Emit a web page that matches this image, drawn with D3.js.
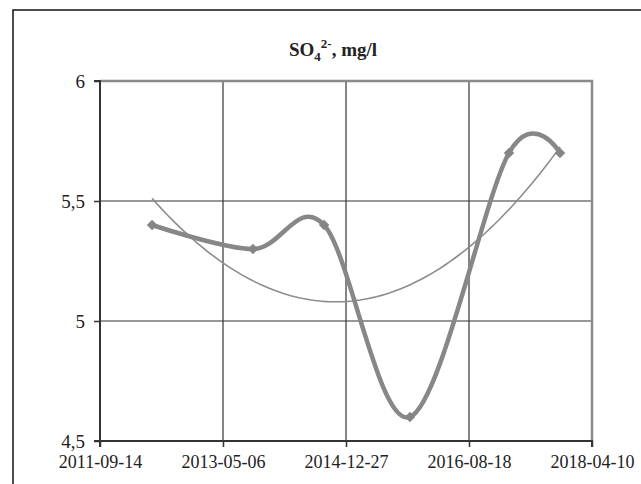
<!DOCTYPE html>
<html>
<head>
<meta charset="utf-8">
<script src="https://cdn.jsdelivr.net/npm/d3@7"></script>
<style>
  body { margin: 0; background: #fff; }
  text { font-family: "Liberation Serif", "Times New Roman", serif; fill: #222; }
</style>
</head>
<body>
<svg id="chart" width="641" height="484"></svg>
<script>
// data
const dates = ["2012-05-25", "2013-09-29", "2014-09-11", "2015-11-04", "2017-03-01", "2017-11-05"];
const values = [5.4, 5.3, 5.4, 4.6, 5.7, 5.7];
const xTicks = ["2011-09-14", "2013-05-06", "2014-12-27", "2016-08-18", "2018-04-10"];
const yTicks = [4.5, 5, 5.5, 6];

const parse = d3.timeParse("%Y-%m-%d");
const pts = dates.map((d, i) => ({ x: parse(d), y: values[i] }));

const svg = d3.select("#chart");
const pLeft = 100, pRight = 592, pTop = 81, pBottom = 441;

const x = d3.scaleTime()
    .domain([parse(xTicks[0]), parse(xTicks[xTicks.length - 1])])
    .range([pLeft, pRight]);
const y = d3.scaleLinear().domain([4.5, 6]).range([pBottom, pTop]);

// outer frame
svg.append("rect")
    .attr("x", 13).attr("y", 10)
    .attr("width", 700).attr("height", 600)
    .style("fill", "#fff")
    .style("stroke", "#111")
    .style("stroke-width", 1.5);

// title
const title = svg.append("text")
    .attr("x", 333).attr("y", 56)
    .attr("text-anchor", "middle")
    .style("font-weight", "bold")
    .style("font-size", "19px");
title.append("tspan").text("SO");
title.append("tspan").attr("dy", 5).style("font-size", "13px").text("4");
title.append("tspan").attr("dy", -13).style("font-size", "13px").text("2-");
title.append("tspan").attr("dy", 8).text(", mg/l");

// gridlines
svg.append("g").selectAll("line")
    .data(yTicks.slice(1, -1))
    .join("line")
    .attr("x1", pLeft).attr("x2", pRight)
    .attr("y1", d => y(d)).attr("y2", d => y(d))
    .style("stroke", "#333").style("stroke-width", 1.2);

svg.append("g").selectAll("line")
    .data(xTicks.slice(1, -1))
    .join("line")
    .attr("x1", d => x(parse(d))).attr("x2", d => x(parse(d)))
    .attr("y1", pTop).attr("y2", pBottom)
    .style("stroke", "#333").style("stroke-width", 1.2);

// plot area top and right edges
svg.append("path")
    .attr("d", `M${pLeft},${pTop}H${pRight}V${pBottom}`)
    .style("fill", "none")
    .style("stroke", "#8a8a8a")
    .style("stroke-width", 2.5);

// axes
const yAxis = svg.append("g")
    .attr("transform", `translate(${pLeft},0)`)
    .call(d3.axisLeft(y).tickValues(yTicks).tickSize(6).tickPadding(9)
        .tickFormat(d => String(d).replace(".", ",")));
const xAxis = svg.append("g")
    .attr("transform", `translate(0,${pBottom})`)
    .call(d3.axisBottom(x).tickValues(xTicks.map(parse)).tickSize(6).tickPadding(8)
        .tickFormat(d3.timeFormat("%Y-%m-%d")));

[yAxis, xAxis].forEach(g => {
  g.select(".domain").style("stroke", "#333").style("stroke-width", 2);
  g.selectAll(".tick line").style("stroke", "#333").style("stroke-width", 1.5);
  g.selectAll("text")
      .style("font-family", '"Liberation Serif", "Times New Roman", serif')
      .style("font-size", "18px")
      .style("fill", "#222");
});
yAxis.selectAll("text").style("font-size", "19px");
yAxis.select(".domain").attr("d", `M-6,${pBottom}H0V${pTop}H-6`);
xAxis.select(".domain").attr("d", `M${pLeft},6V0H${pRight}V6`);

// quadratic trendline (least squares on the data, as the spreadsheet does)
const t0 = x.domain()[0].getTime();
const xs = pts.map(p => (p.x.getTime() - t0) / 864e5 / 1000);
const S = k => d3.sum(xs, v => Math.pow(v, k));
const Sy = k => d3.sum(xs, (v, i) => Math.pow(v, k) * values[i]);
const A = [[S(0), S(1), S(2)], [S(1), S(2), S(3)], [S(2), S(3), S(4)]];
const B = [Sy(0), Sy(1), Sy(2)];
function solve3(M, v) {
  const det = m => m[0][0]*(m[1][1]*m[2][2]-m[1][2]*m[2][1]) - m[0][1]*(m[1][0]*m[2][2]-m[1][2]*m[2][0]) + m[0][2]*(m[1][0]*m[2][1]-m[1][1]*m[2][0]);
  const D = det(M);
  return [0, 1, 2].map(c => det(M.map((row, r) => row.map((val, j) => j === c ? v[r] : val))) / D);
}
const coef = solve3(A, B);
const trend = d3.range(0, 101).map(i => {
  const u = xs[0] + (xs[xs.length - 1] - xs[0]) * i / 100;
  return { x: new Date(t0 + u * 1000 * 864e5), y: coef[0] + coef[1] * u + coef[2] * u * u };
});

svg.append("path")
    .datum(trend)
    .attr("d", d3.line().x(d => x(d.x)).y(d => y(d.y)))
    .style("fill", "none")
    .style("stroke", "#8c8c8c")
    .style("stroke-width", 1.6);

// smoothed data line
svg.append("path")
    .datum(pts)
    .attr("d", d3.line().x(d => x(d.x)).y(d => y(d.y)).curve(d3.curveCardinal.tension(0)))
    .style("fill", "none")
    .style("stroke", "#878787")
    .style("stroke-width", 4.5);

// diamond markers
svg.append("g").selectAll("path")
    .data(pts)
    .join("path")
    .attr("transform", d => `translate(${x(d.x)},${y(d.y)})`)
    .attr("d", d3.symbol(d3.symbolDiamond2, 70))
    .style("fill", "#858585");
</script>
</body>
</html>
